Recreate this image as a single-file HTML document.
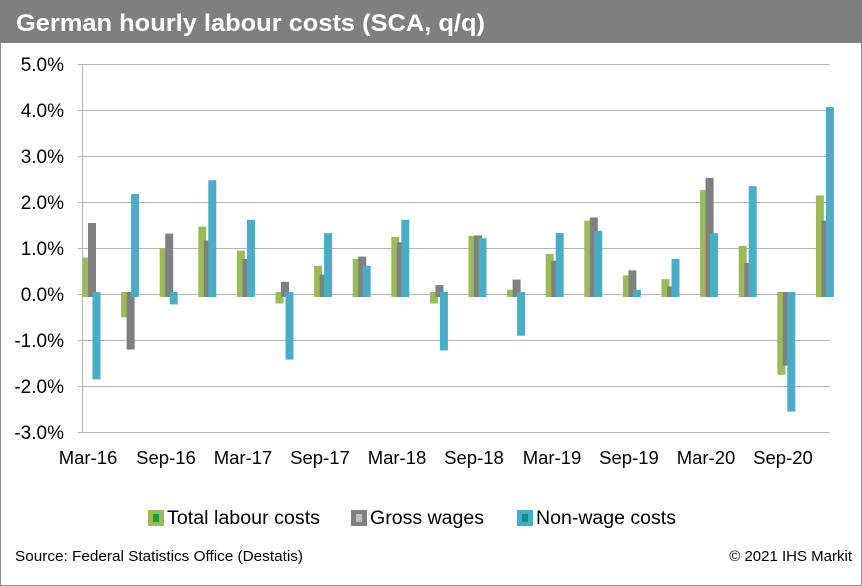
<!DOCTYPE html>
<html><head><meta charset="utf-8"><style>
body{margin:0;background:#fff;}
svg{display:block;font-family:"Liberation Sans",Arial,sans-serif;}
</style></head><body>
<svg id="s" width="862" height="586" viewBox="0 0 862 586" xmlns="http://www.w3.org/2000/svg">
<rect x="0.5" y="0.5" width="861" height="585" fill="#fff" stroke="#8c8c8c"/>
<rect x="0" y="0" width="862" height="43" fill="#7f7f7f"/>
<text x="16" y="31" fill="#fff" font-size="24.5" font-weight="bold" textLength="469" lengthAdjust="spacingAndGlyphs">German hourly labour costs (SCA, q/q)</text>
<g stroke="#b4b4b4" stroke-width="1">
<line x1="78" y1="64.5" x2="830" y2="64.5"/>
<line x1="78" y1="110.5" x2="830" y2="110.5"/>
<line x1="78" y1="156.5" x2="830" y2="156.5"/>
<line x1="78" y1="202.5" x2="830" y2="202.5"/>
<line x1="78" y1="248.5" x2="830" y2="248.5"/>
<line x1="78" y1="294.5" x2="830" y2="294.5"/>
<line x1="78" y1="340.5" x2="830" y2="340.5"/>
<line x1="78" y1="386.5" x2="830" y2="386.5"/>
<line x1="78" y1="432.5" x2="830" y2="432.5"/>
<line x1="82.5" y1="64" x2="82.5" y2="432"/>
</g>
<g font-size="19" fill="#000" text-anchor="end">
<text x="64" y="71">5.0%</text>
<text x="64" y="117">4.0%</text>
<text x="64" y="163">3.0%</text>
<text x="64" y="209">2.0%</text>
<text x="64" y="255">1.0%</text>
<text x="64" y="301">0.0%</text>
<text x="64" y="347">-1.0%</text>
<text x="64" y="393">-2.0%</text>
<text x="64" y="439">-3.0%</text>
</g>
<g font-size="18.5" fill="#000" text-anchor="middle">
<text x="88" y="464">Mar-16</text>
<text x="166" y="464">Sep-16</text>
<text x="243" y="464">Mar-17</text>
<text x="320" y="464">Sep-17</text>
<text x="397" y="464">Mar-18</text>
<text x="474" y="464">Sep-18</text>
<text x="552" y="464">Mar-19</text>
<text x="629" y="464">Sep-19</text>
<text x="706" y="464">Mar-20</text>
<text x="783" y="464">Sep-20</text>
</g>
<g id="bars"></g>
<rect x="148" y="510" width="16" height="16" fill="#9bbb59"/><rect x="153" y="514" width="6" height="8" fill="#10a040"/>
<text x="167" y="524" font-size="19" textLength="153" lengthAdjust="spacingAndGlyphs">Total labour costs</text>
<rect x="351" y="510" width="16" height="16" fill="#808080"/><rect x="356" y="514" width="6" height="8" fill="#c0c0c0"/>
<text x="370" y="524" font-size="19" textLength="114" lengthAdjust="spacingAndGlyphs">Gross wages</text>
<rect x="517" y="510" width="16" height="16" fill="#4bacc6"/><rect x="522" y="514" width="6" height="8" fill="#1a8a8a"/>
<text x="536" y="524" font-size="19" textLength="140" lengthAdjust="spacingAndGlyphs">Non-wage costs</text>
<text x="15" y="561" font-size="15" textLength="288" lengthAdjust="spacingAndGlyphs">Source: Federal Statistics Office (Destatis)</text>
<text x="852" y="561" font-size="15" text-anchor="end">© 2021 IHS Markit</text>
</svg>
<script>
var d=[[0.8,1.55,-1.85],[-0.5,-1.2,2.18],[1.0,1.32,-0.22],[1.47,1.17,2.48],[0.95,0.77,1.62],[-0.2,0.27,-1.42],[0.62,0.43,1.33],[0.77,0.82,0.62],[1.25,1.13,1.62],[-0.2,0.2,-1.22],[1.27,1.28,1.22],[0.1,0.32,-0.9],[0.88,0.73,1.33],[1.6,1.67,1.38],[0.41,0.52,0.1],[0.33,0.17,0.77],[2.27,2.53,1.33],[1.05,0.68,2.35],[-1.75,-1.55,-2.55],[2.15,1.6,4.07]];
var c=["#9bbb59","#808080","#4bacc6"],off=[0,5.5,10],g=document.getElementById("bars"),h="";
for(var i=0;i<d.length;i++){var x0=82.5+38.6*i;for(var k=0;k<3;k++){var v=d[i][k],y,hh;
if(v>=0){y=294.3-46*v;hh=46*v+2.7;}else{y=292;hh=-46*v+2.3;}
h+='<rect x="'+(x0+off[k])+'" y="'+y+'" width="8" height="'+hh+'" fill="'+c[k]+'"/>';}}
g.innerHTML=h;
</script>
</body></html>
